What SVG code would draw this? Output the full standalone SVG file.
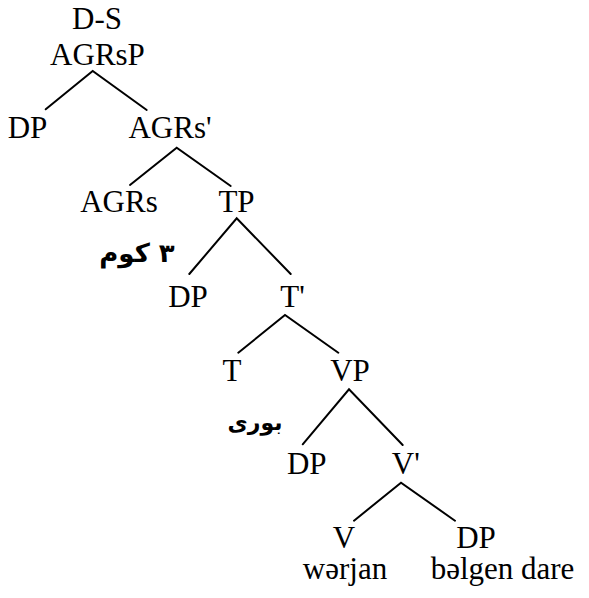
<svg xmlns="http://www.w3.org/2000/svg" width="589" height="598" viewBox="0 0 589 598">
<style>
.t{font-family:'Liberation Serif','Times New Roman','DejaVu Serif',serif;font-size:31px;fill:#000;text-anchor:middle}
.a{font-family:'DejaVu Sans',sans-serif;font-weight:bold;font-size:26px;fill:#000;text-anchor:middle}
.e{stroke:#000;stroke-width:2;fill:none;stroke-linecap:round}
</style>
<rect width="589" height="598" fill="#fff"/>
<g id="connectors">
<path class="e" d="M45.7,109.3 L92.7,71 L146.7,110"/>
<path class="e" d="M130,185 L176.7,147.7 L230.7,186"/>
<path class="e" d="M189.3,274 L236.7,218.3 L290.7,274"/>
<path class="e" d="M238.3,352.7 L285,315 L338.3,352.7"/>
<path class="e" d="M302.7,444.3 L349,389.3 L402.7,445"/>
<path class="e" d="M354,520.7 L401,482.7 L455,520.7"/>
</g>
<g id="n-ds"><text class="t" x="97" y="29">D-S</text></g>
<g id="n-agrsp"><text class="t" x="97.5" y="65">AGRsP</text></g>
<g id="n-dp1"><text class="t" x="27.5" y="138">DP</text></g>
<g id="n-agrs1"><text class="t" x="170" y="138">AGRs'</text></g>
<g id="n-agrs"><text class="t" x="119" y="212">AGRs</text></g>
<g id="n-tp"><text class="t" x="236.5" y="212">TP</text></g>
<g id="n-kom"><text class="a" x="137" y="262">٣ کوم</text></g>
<g id="n-dp2"><text class="t" x="188" y="307">DP</text></g>
<g id="n-t1"><text class="t" x="292.5" y="307">T'</text></g>
<g id="n-t"><text class="t" x="232" y="381">T</text></g>
<g id="n-vp"><text class="t" x="350" y="381">VP</text></g>
<g id="n-bori"><text class="a" x="255" y="430" style="font-size:22px">بوری</text></g>
<g id="n-dp3"><text class="t" x="306.7" y="474">DP</text></g>
<g id="n-v1"><text class="t" x="405.8" y="474">V'</text></g>
<g id="n-v"><text class="t" x="344" y="548">V</text></g>
<g id="n-dp4"><text class="t" x="476" y="548">DP</text></g>
<g id="n-werjan"><text class="t" x="345" y="579">wərjan</text></g>
<g id="n-belgen"><text class="t" x="502.5" y="579">bəlgen dare</text></g>
</svg>
